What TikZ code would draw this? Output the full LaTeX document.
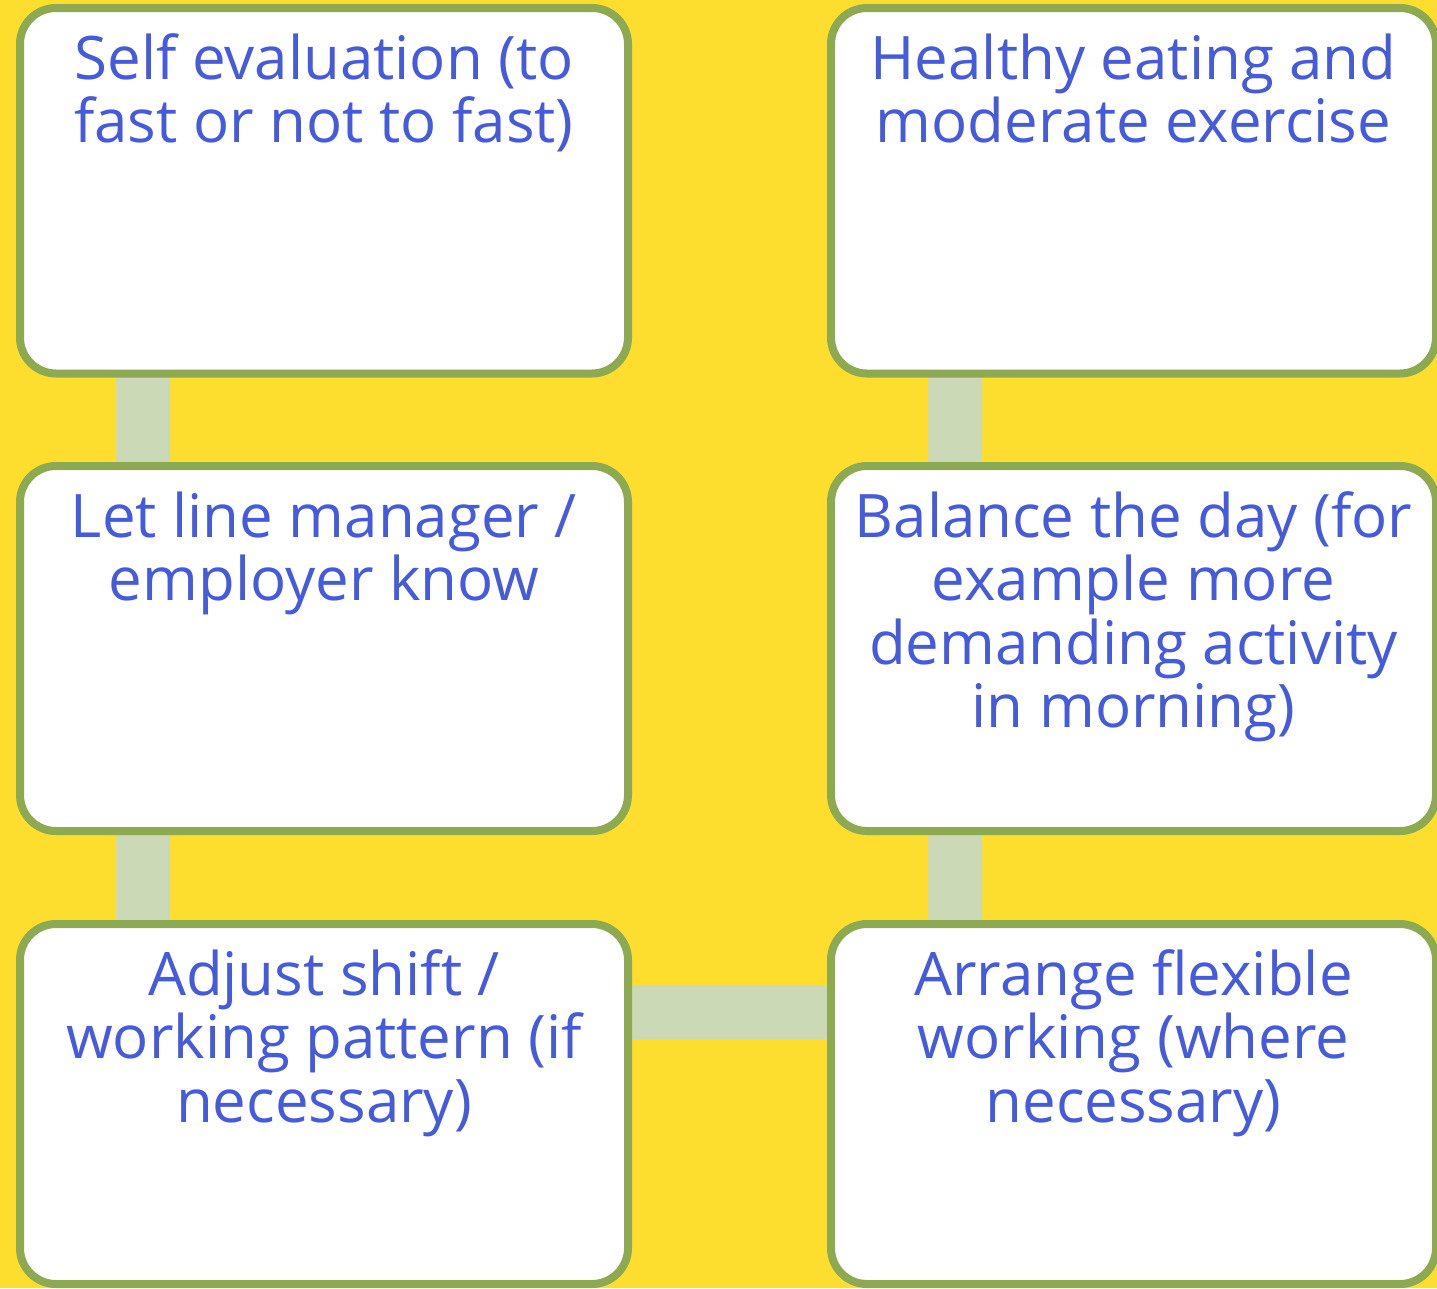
\documentclass[tikz,border=0pt]{standalone}
\usepackage{fontspec}
\setmainfont{Open Sans}
\usetikzlibrary{backgrounds}
\definecolor{bgyellow}{RGB}{253,222,47}
\definecolor{boxborder}{RGB}{141,169,81}
\definecolor{linkgreen}{RGB}{204,217,183}
\definecolor{textblue}{RGB}{70,91,219}
\tikzset{
  x=1pt, y=1pt,
  stepbox/.style={rectangle, draw=boxborder, line width=8pt, fill=white,
    rounded corners=36pt, inner sep=0pt},
  boxtext/.style={anchor=north, align=center, inner sep=0pt, text=textblue,
    font={\fontsize{60}{63.5}\selectfont}},
  link/.style={draw=linkgreen, line width=54pt}
}
\newcommand{\firstline}{\rule{0pt}{50pt}}
\begin{document}
\begin{tikzpicture}
  \useasboundingbox (0,0) rectangle (1437,-1288);
  \clip (0,0) rectangle (1437,-1288);

  % left column
  \node[stepbox, minimum width=608pt, minimum height=365.5pt] (a) at (324,-190.75) {};
  \node[stepbox, minimum width=608pt, minimum height=365pt] (b) at (324,-648.5) {};
  \node[stepbox, minimum width=608pt, minimum height=360pt] (c) at (324,-1104) {};
  % right column
  \node[stepbox, minimum width=605pt, minimum height=365.5pt] (d) at (1133.5,-190.75) {};
  \node[stepbox, minimum width=605pt, minimum height=365pt] (e) at (1133.5,-648.5) {};
  \node[stepbox, minimum width=605pt, minimum height=360pt] (f) at (1133.5,-1104) {};

  % labels
  \node[boxtext] (ta) at ([yshift=-25pt]a.north) {\firstline Self evaluation (to\\fast or not to fast)};
  \node[boxtext] (tb) at ([yshift=-25pt]b.north) {\firstline Let line manager /\\employer know};
  \node[boxtext] (tc) at ([yshift=-25pt]c.north) {\firstline Adjust shift /\\working pattern (if\\necessary)};
  \node[boxtext] (td) at ([yshift=-25pt]d.north) {\firstline Healthy eating and\\moderate exercise};
  \node[boxtext] (te) at ([yshift=-25pt]e.north) {\firstline Balance the day (for\\example more\\demanding activity\\in morning)};
  \node[boxtext] (tf) at ([yshift=-25pt]f.north) {\firstline Arrange flexible\\working (where\\necessary)};

  % page colour and connectors, behind the boxes
  \begin{scope}[on background layer]
    \fill[bgyellow] (0,0) rectangle (1437,-1288);
    \draw[link] ([xshift=-181pt]a.south) -- ([xshift=-181pt]b.north);
    \draw[link] ([xshift=-181pt]b.south) -- ([xshift=-181pt]c.north);
    \draw[link] ([yshift=92pt]c.east) -- ([yshift=92pt]f.west);
    \draw[link] ([xshift=-179pt]f.north) -- ([xshift=-179pt]e.south);
    \draw[link] ([xshift=-179pt]e.north) -- ([xshift=-179pt]d.south);
  \end{scope}
\end{tikzpicture}
\end{document}
